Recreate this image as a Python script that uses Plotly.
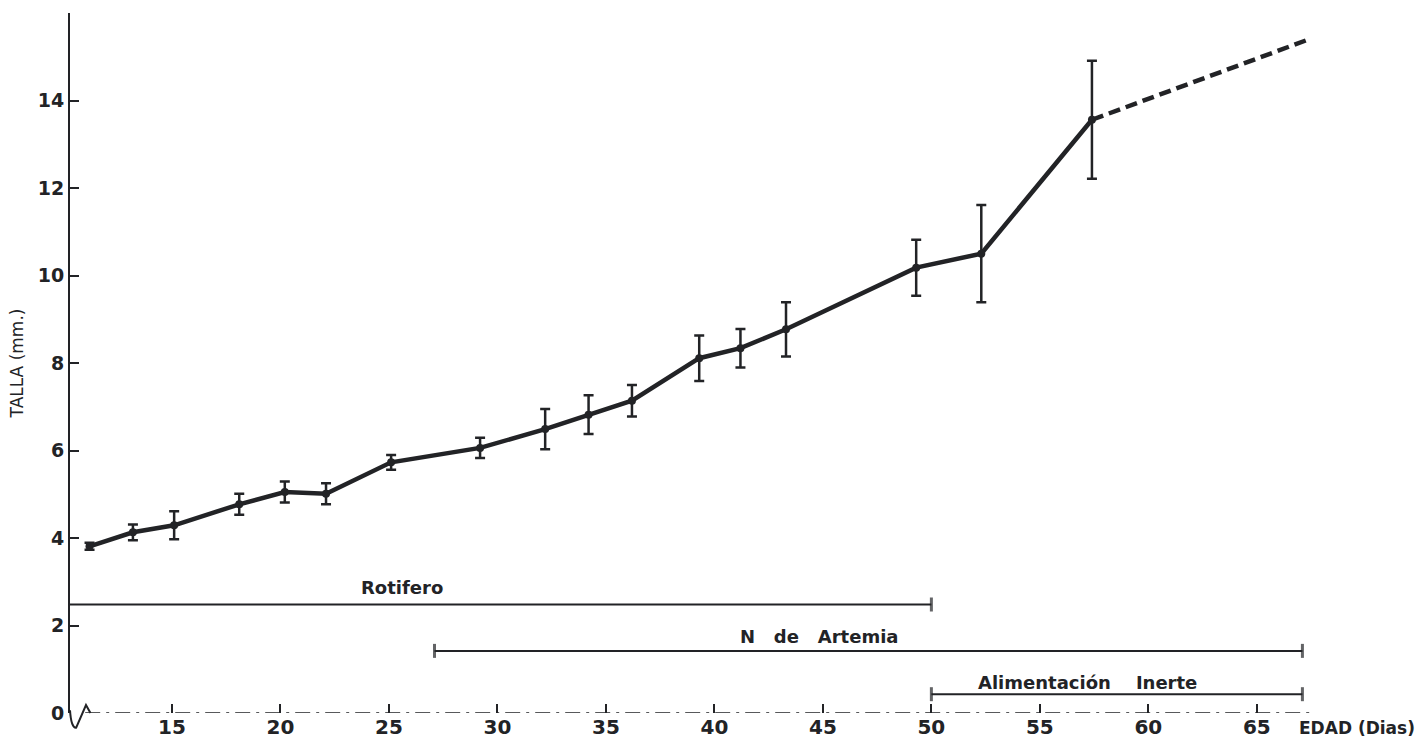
import plotly.graph_objects as go

# Data
dias = [11.2, 13.2, 15.1, 18.1, 20.2, 22.1, 25.1, 29.2, 32.2, 34.2, 36.2, 39.3, 41.2, 43.3, 49.3, 52.3, 57.4]
talla = [3.81, 4.13, 4.29, 4.77, 5.05, 5.01, 5.73, 6.06, 6.49, 6.82, 7.14, 8.11, 8.34, 8.77, 10.18, 10.50, 13.56]
error = [0.08, 0.18, 0.32, 0.24, 0.24, 0.24, 0.17, 0.23, 0.46, 0.44, 0.36, 0.52, 0.44, 0.62, 0.64, 1.11, 1.35]

# Extrapolated dashed segment
ext_dias = [57.4, 67.3]
ext_talla = [13.56, 15.38]

# Feeding periods
periodos = ["Rotifero", "N   de   Artemia", "Alimentación    Inerte"]
per_inicio = [10.3, 27.1, 50.0]
per_fin = [50.0, 67.1, 67.1]
per_nivel = [2.48, 1.42, 0.43]
per_cap_inicio = [False, True, True]
per_label_x = [25.6, 44.8, 57.2]
per_label_y = [2.86, 1.74, 0.70]

x_ticks = [15, 20, 25, 30, 35, 40, 45, 50, 55, 60, 65]
y_ticks = [0, 2, 4, 6, 8, 10, 12, 14]

INK = "#222326"
FONT = "DejaVu Sans"

fig = go.Figure()

# Period bars
for name, x0, x1, lvl, cap0 in zip(periodos, per_inicio, per_fin, per_nivel, per_cap_inicio):
    fig.add_trace(go.Scatter(
        x=[x0, x1], y=[lvl, lvl], mode="lines+markers",
        line=dict(color=INK, width=2),
        marker=dict(symbol="line-ns", size=[10 if cap0 else 0, 10],
                    line=dict(color=INK, width=3)),
        showlegend=False, hoverinfo="skip"))

# Main growth curve with error bars
fig.add_trace(go.Scatter(
    x=dias, y=talla, mode="lines+markers",
    line=dict(color=INK, width=4.5),
    marker=dict(symbol="circle", size=8, color=INK),
    error_y=dict(type="data", array=error, visible=True,
                 color=INK, thickness=2.5, width=5),
    showlegend=False))

# Dashed extrapolation
fig.add_trace(go.Scatter(
    x=ext_dias, y=ext_talla, mode="lines",
    line=dict(color=INK, width=4.5, dash="12px,6px"),
    showlegend=False, hoverinfo="skip"))

# Period labels
for name, lx, ly in zip(periodos, per_label_x, per_label_y):
    fig.add_annotation(x=lx, y=ly, text=name, showarrow=False,
                       font=dict(family=FONT, size=18, color=INK, weight="bold"))

# X axis label at the right end
fig.add_annotation(xref="paper", x=1.038, yref="paper", y=-0.021, text="EDAD (Dias)",
                   xanchor="center", yanchor="middle", showarrow=False,
                   font=dict(family=FONT, size=17, color=INK, weight="bold"))

# X axis line (broken near origin)
fig.add_shape(type="line", xref="x", yref="y", x0=11.0, x1=67.45, y0=0, y1=0,
              line=dict(color=INK, width=1.5, dash="longdashdot"))
fig.add_shape(type="path", xref="paper", yref="paper",
              path="M 0,0.004 Q 0.001,-0.022 0.005,-0.021 L 0.0129,0.0114 L 0.0165,0",
              line=dict(color=INK, width=2))

fig.update_layout(
    width=1421, height=745,
    margin=dict(l=70, r=111, t=13, b=32),
    paper_bgcolor="white", plot_bgcolor="white",
    font=dict(family=FONT, color=INK),
    xaxis=dict(range=[10.3, 67.45], showgrid=False, zeroline=False, showline=False,
               automargin=False,
               tickmode="array", tickvals=x_ticks, ticks="inside", ticklen=9,
               tickwidth=1.8, tickcolor=INK,
               tickfont=dict(size=20, color=INK, weight="bold")),
    yaxis=dict(range=[0, 16], showgrid=False, zeroline=False, showline=True,
               automargin=False,
               linecolor=INK, linewidth=2,
               tickmode="array", tickvals=y_ticks, ticks="inside", ticklen=9,
               tickwidth=1.8, tickcolor=INK,
               tickfont=dict(size=19, color=INK, weight="bold"),
               title=dict(text="TALLA (mm.)", standoff=10,
                          font=dict(size=17, color=INK))),
)

fig.write_html("out.html")
